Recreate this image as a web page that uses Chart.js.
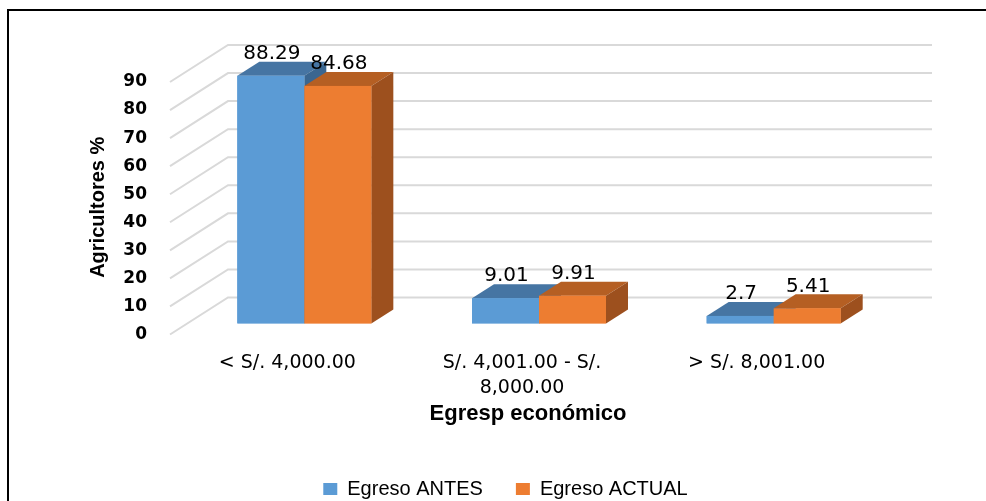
<!DOCTYPE html>
<html>
<head>
<meta charset="utf-8">
<script src="https://cdn.jsdelivr.net/npm/chart.js@4"></script>
<style>
  html, body { margin: 0; padding: 0; background: #fff; overflow: hidden; }
  #wrap { position: absolute; left: 0; top: 0; width: 986px; height: 509px; }
  #frame { position: absolute; left: 7px; top: 9px; width: 1000px; height: 600px; border: 2px solid #000; }
</style>
</head>
<body>
<div id="frame"></div>
<div id="wrap"><canvas id="chart"></canvas></div>
<script>
// categories and series
const categories = ["< S/. 4,000.00", ["S/. 4,001.00 - S/.", "8,000.00"], "> S/. 8,001.00"];
const egresoAntes = [88.29, 9.01, 2.7];
const egresoActual = [84.68, 9.91, 5.41];
const seriesNames = ["Egreso ANTES", "Egreso ACTUAL"];
const yTicks = { min: 0, max: 90, step: 10 };

// face colours: front, top, side
const faces = [
  { front: "#5B9BD5", top: "#4675A3", side: "#3A6690" },
  { front: "#ED7D31", top: "#B55F23", side: "#9D501E" },
];

// 3d offsets
const DX = 22, DY = -14;        // bar depth
const WALL_DX = 41, WALL_DY = -26; // back wall
const EDGE_DX = -17, EDGE_DY = 11; // front edge of side wall

const bars3d = {
  id: "bars3d",
  beforeDatasetsDraw(chart) {
    const { ctx, chartArea: a } = chart;
    const y = chart.scales.y;
    ctx.save();
    ctx.strokeStyle = "#d9d9d9";
    ctx.lineWidth = 2;
    y.ticks.forEach((t) => {
      const py = y.getPixelForValue(t.value);
      ctx.beginPath();
      ctx.moveTo(a.left + EDGE_DX, py + EDGE_DY);
      ctx.lineTo(a.left + WALL_DX, py + WALL_DY);
      ctx.lineTo(a.right + WALL_DX, py + WALL_DY);
      ctx.stroke();
    });
    ctx.restore();
  },
  afterDatasetsDraw(chart) {
    const { ctx } = chart;
    ctx.save();
    const n = chart.data.labels.length;
    for (let i = 0; i < n; i++) {
      chart.data.datasets.forEach((ds, d) => {
        const el = chart.getDatasetMeta(d).data[i];
        const l = el.x - el.width / 2, r = el.x + el.width / 2;
        const t = el.y, b = el.base;
        const f = faces[d];
        // top
        ctx.fillStyle = f.top;
        ctx.beginPath();
        ctx.moveTo(l, t); ctx.lineTo(r, t);
        ctx.lineTo(r + DX, t + DY); ctx.lineTo(l + DX, t + DY);
        ctx.closePath(); ctx.fill();
        // side
        ctx.fillStyle = f.side;
        ctx.beginPath();
        ctx.moveTo(r, t); ctx.lineTo(r + DX, t + DY);
        ctx.lineTo(r + DX, b + DY); ctx.lineTo(r, b);
        ctx.closePath(); ctx.fill();
        // front
        ctx.fillStyle = f.front;
        ctx.fillRect(l, t, r - l, b - t);
      });
    }
    // value labels
    ctx.fillStyle = "#000";
    ctx.font = "20px 'DejaVu Sans'";
    ctx.textAlign = "center";
    ctx.textBaseline = "middle";
    chart.data.datasets.forEach((ds, d) => {
      chart.getDatasetMeta(d).data.forEach((el, i) => {
        ctx.fillText(String(ds.data[i]), el.x + 1, el.y + DY - 8);
      });
    });
    ctx.restore();
  },
};

new Chart(document.getElementById("chart"), {
  type: "bar",
  data: {
    labels: categories,
    datasets: [
      { label: seriesNames[0], data: egresoAntes, backgroundColor: faces[0].front },
      { label: seriesNames[1], data: egresoActual, backgroundColor: faces[1].front },
    ],
  },
  options: {
    responsive: true,
    maintainAspectRatio: false,
    animation: false,
    layout: { padding: { left: 120, right: 95, top: 71, bottom: 0 } },
    datasets: { bar: { categoryPercentage: 0.571, barPercentage: 1, borderWidth: 0 } },
    plugins: {
      tooltip: { enabled: false },
      legend: {
        position: "bottom",
        labels: {
          boxWidth: 14,
          boxHeight: 12,
          padding: 33,
          color: "#000",
          font: { family: "'Liberation Sans'", size: 20 },
        },
      },
    },
    scales: {
      x: {
        grid: { display: false, drawTicks: false },
        border: { display: false },
        ticks: {
          padding: 27,
          labelOffset: -17,
          maxRotation: 0,
          autoSkip: false,
          color: "#000",
          font: { family: "'DejaVu Sans'", size: 19, lineHeight: 1.316 },
        },
        title: {
          display: true,
          text: "Egresp económico\u2003",
          color: "#000",
          font: { family: "'Liberation Sans'", size: 22, weight: "bold" },
          padding: { top: 0, bottom: 19 },
        },
        afterFit(s) { s.height = 122.5; },
      },
      y: {
        min: yTicks.min,
        max: yTicks.max,
        grid: { display: false, drawTicks: false },
        border: { display: false },
        ticks: {
          stepSize: yTicks.step,
          padding: 40,
          labelOffset: 11,
          color: "#000",
          font: { family: "'DejaVu Sans'", size: 17, weight: "bold" },
        },
        title: {
          display: true,
          text: "Agricultores %\u2003",
          color: "#000",
          font: { family: "'Liberation Sans'", size: 20, weight: "bold" },
          padding: { top: -34, bottom: 0 },
        },
        afterFit(s) { s.width = 67; },
      },
    },
  },
  plugins: [bars3d],
});
</script>
</body>
</html>
